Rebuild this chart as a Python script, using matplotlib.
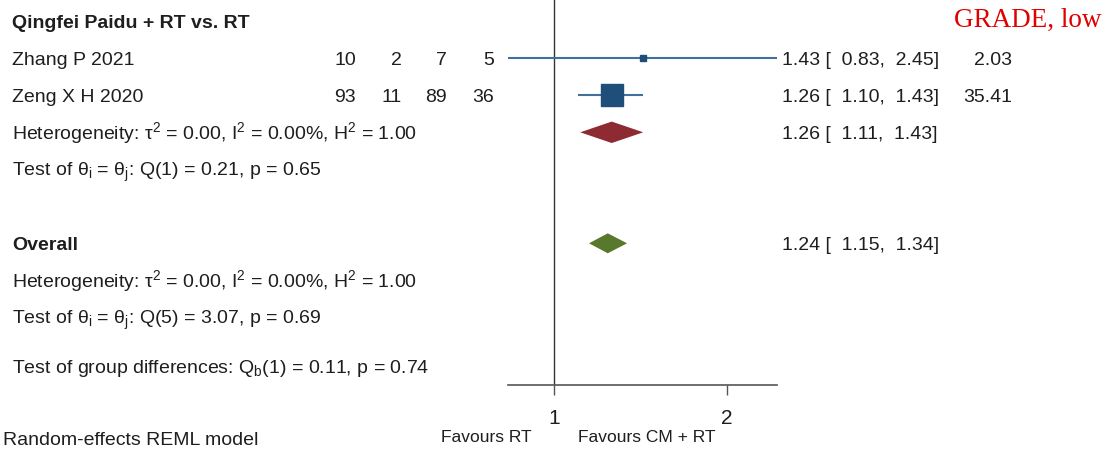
import numpy as np
import matplotlib
matplotlib.use('Agg')
import matplotlib.pyplot as plt
from matplotlib.transforms import blended_transform_factory

# ── Data ──────────────────────────────────────────────
SUBGROUP     = 'Qingfei Paidu + RT vs. RT'
STUDIES      = ['Zhang P 2021', 'Zeng X H 2020']
TREAT_YES    = [10, 93]
TREAT_NO     = [2, 11]
CTRL_YES     = [7, 89]
CTRL_NO      = [5, 36]
RR           = [1.43, 1.26]
RR_LO        = [0.83, 1.10]
RR_HI        = [2.45, 1.43]
WEIGHTS      = [2.03, 35.41]

SUB_EST      = [1.26, 1.11, 1.43]      # subgroup RR, lower, upper
OVERALL_EST  = [1.24, 1.15, 1.34]      # overall RR, lower, upper
XTICKS       = [1, 2]

SUB_HET      = r'Heterogeneity: τ$^{2}$ = 0.00, I$^{2}$ = 0.00%, H$^{2}$ = 1.00'
SUB_TEST     = r'Test of θ$_{\mathrm{i}}$ = θ$_{\mathrm{j}}$: Q(1) = 0.21, p = 0.65'
ALL_HET      = r'Heterogeneity: τ$^{2}$ = 0.00, I$^{2}$ = 0.00%, H$^{2}$ = 1.00'
ALL_TEST     = r'Test of θ$_{\mathrm{i}}$ = θ$_{\mathrm{j}}$: Q(5) = 3.07, p = 0.69'
GROUP_TEST   = r'Test of group differences: Q$_{\mathrm{b}}$(1) = 0.11, p = 0.74'

# ── Style ─────────────────────────────────────────────
plt.rcParams['font.family'] = ['Liberation Sans', 'DejaVu Sans']
plt.rcParams['mathtext.fontset'] = 'custom'
plt.rcParams['mathtext.rm'] = 'Liberation Sans'
plt.rcParams['mathtext.it'] = 'Liberation Sans'
plt.rcParams['mathtext.bf'] = 'Liberation Sans:bold'

TXT      = '#1e1e1e'
SQ_COL   = '#1f4e7a'
LINE_COL = '#41709a'
SUB_COL  = '#8e2a32'
ALL_COL  = '#58792c'
AX_COL   = '#555555'
FS       = 14

W, H = 1106, 450
fig = plt.figure(figsize=(W / 100, H / 100), dpi=100)

# plot region: x 508..777 px, y 0..385 px
ax = fig.add_axes([508 / W, 1 - 385 / H, (777 - 508) / W, 385 / H])
ax.set_xscale('log')
ax.set_xlim(min(RR_LO), max(RR_HI))
ax.set_ylim(9.83, -0.576)

def px(x):
    return x / W

tr = blended_transform_factory(fig.transFigure, ax.transData)
base = 0.19   # baseline offset (rows) so cap-height centres on the row

# ── Rows ──────────────────────────────────────────────
ax.text(px(12), 0 + base, SUBGROUP, transform=tr, fontsize=FS,
        fontweight='bold', color=TXT, va='baseline')

for i, name in enumerate(STUDIES):
    r = i + 1
    ax.text(px(12), r + base, name, transform=tr, fontsize=FS,
            color=TXT, va='baseline')
    for xr, v in zip([356, 402, 447, 494],
                     [TREAT_YES[i], TREAT_NO[i], CTRL_YES[i], CTRL_NO[i]]):
        ax.text(px(xr), r + base, str(v), transform=tr, fontsize=FS,
                color=TXT, ha='right', va='baseline')

    ax.plot([RR_LO[i], RR_HI[i]], [r, r], color=LINE_COL, lw=1.5,
            solid_capstyle='butt', zorder=2)
    side = max(2.66 * np.sqrt(WEIGHTS[i]), 5.0)
    ax.plot([RR[i]], [r], marker='s', ms=side, color=SQ_COL,
            mec=SQ_COL, zorder=3)

    ax.text(px(782), r + base,
            f'{RR[i]:.2f} [  {RR_LO[i]:.2f},  {RR_HI[i]:.2f}]',
            transform=tr, fontsize=FS, color=TXT, va='baseline')
    ax.text(px(1012), r + base, f'{WEIGHTS[i]:.2f}', transform=tr,
            fontsize=FS, color=TXT, ha='right', va='baseline')

def diamond(est, lo, hi, r, col, h=0.29):
    ax.fill([lo, est, hi, est], [r, r - h, r, r + h], color=col,
            lw=0, zorder=3)
    ax.text(px(782), r + base, f'{est:.2f} [  {lo:.2f},  {hi:.2f}]',
            transform=tr, fontsize=FS, color=TXT, va='baseline')

ax.text(px(12), 3 + base, SUB_HET, transform=tr, fontsize=FS,
        color=TXT, va='baseline')
diamond(*SUB_EST, 3, SUB_COL)
ax.text(px(12), 4 + base, SUB_TEST, transform=tr, fontsize=FS,
        color=TXT, va='baseline')

ax.text(px(12), 6 + base, 'Overall', transform=tr, fontsize=FS,
        fontweight='bold', color=TXT, va='baseline')
diamond(*OVERALL_EST, 6, ALL_COL, h=0.27)
ax.text(px(12), 7 + base, ALL_HET, transform=tr, fontsize=FS,
        color=TXT, va='baseline')
ax.text(px(12), 8 + base, ALL_TEST, transform=tr, fontsize=FS,
        color=TXT, va='baseline')
ax.text(px(12), 9.32 + base, GROUP_TEST, transform=tr, fontsize=FS,
        color=TXT, va='baseline')

# ── Axis ──────────────────────────────────────────────
ax.axvline(1, color='#333333', lw=1.0, zorder=1)
for s in ['left', 'right', 'top']:
    ax.spines[s].set_visible(False)
ax.spines['bottom'].set_color(AX_COL)
ax.spines['bottom'].set_linewidth(1.2)
ax.set_yticks([])
ax.set_xticks(XTICKS)
ax.set_xticklabels([str(t) for t in XTICKS])
ax.xaxis.set_minor_locator(matplotlib.ticker.NullLocator())
ax.tick_params(axis='x', length=7, width=1.0, color=AX_COL, pad=10,
               labelsize=15, labelcolor=TXT)
ax.patch.set_alpha(0)

fig.text(px(532), 1 - 438 / H, 'Favours RT', fontsize=12.5, color=TXT,
         ha='right', va='center')
fig.text(px(578), 1 - 438 / H, 'Favours CM + RT', fontsize=12.5,
         color=TXT, ha='left', va='center')

fig.text(px(3), 1 - 445 / H, 'Random-effects REML model', fontsize=FS,
         color=TXT, va='baseline')

fig.text(px(1102), 1 - 27 / H, 'GRADE, low', fontsize=19.5,
         family='Liberation Serif', color='#e00000', ha='right',
         va='baseline')

fig.savefig('out.png', dpi=100)
